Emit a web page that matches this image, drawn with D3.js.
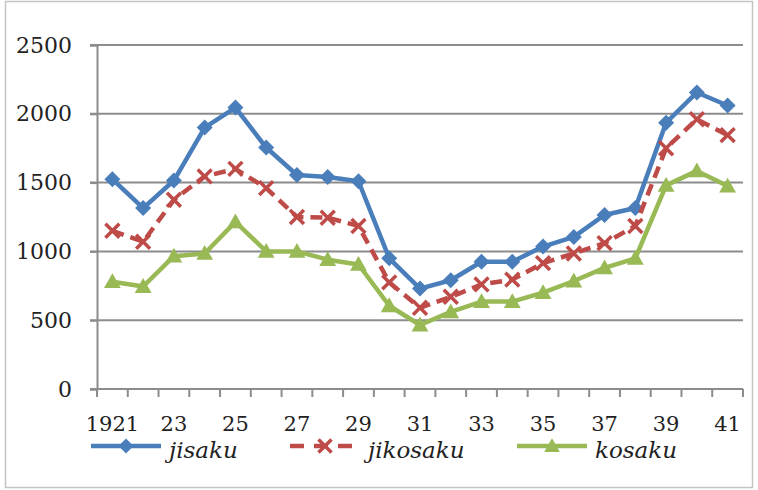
<!DOCTYPE html>
<html>
<head>
<meta charset="utf-8">
<script src="https://cdn.jsdelivr.net/npm/d3@7"></script>
<style>
  html, body { margin: 0; padding: 0; background: #fff; }
  svg { display: block; }
  text { font-family: "DejaVu Serif", "Liberation Serif", serif; fill: #222; }
</style>
</head>
<body>
<svg id="chart" width="758" height="490"></svg>
<script>
// Years on the category axis (1921-1941)
const years = [1921,1922,1923,1924,1925,1926,1927,1928,1929,1930,
               1931,1932,1933,1934,1935,1936,1937,1938,1939,1940,1941];
// Which years get a label, and the label text
const yearLabels = {1921:"1921",1923:"23",1925:"25",1927:"27",1929:"29",1931:"31",
                    1933:"33",1935:"35",1937:"37",1939:"39",1941:"41"};
const yTicks = [0, 500, 1000, 1500, 2000, 2500];

const jisaku   = [1525,1315,1515,1900,2045,1755,1555,1540,1510,950,
                  730,790,925,925,1035,1105,1265,1315,1935,2155,2060];
const jikosaku = [1150,1070,1375,1545,1600,1460,1250,1245,1185,775,
                  590,670,760,795,915,985,1060,1185,1750,1960,1845];
const kosaku   = [780,745,965,985,1215,1000,1000,940,905,605,
                  465,560,635,635,700,785,880,950,1480,1585,1475];

const series = [
  {name: "jisaku",   values: jisaku,   color: "#4A7EBB", dash: null,    marker: "diamond"},
  {name: "jikosaku", values: jikosaku, color: "#BE4B48", dash: "12,7",  marker: "cross"},
  {name: "kosaku",   values: kosaku,   color: "#98B954", dash: null,    marker: "triangle"}
];

const svg = d3.select("#chart");
const plotL = 97, plotR = 743, plotT = 45, plotB = 389;

// outer frame
svg.append("rect").attr("x", 5.5).attr("y", 1.5).attr("width", 747).attr("height", 486)
  .attr("fill", "none").attr("stroke", "#c4c4c4").attr("stroke-width", 1.5);

const x = d3.scaleBand().domain(years).range([plotL, plotR]).padding(0);
const y = d3.scaleLinear().domain([0, 2500]).range([plotB, plotT]);
const cx = d => x(d) + x.bandwidth() / 2;

// horizontal gridlines
svg.append("g").selectAll("line").data(yTicks.filter(t => t > 0)).join("line")
  .attr("x1", plotL - 7).attr("x2", plotR)
  .attr("y1", d => y(d)).attr("y2", d => y(d))
  .attr("stroke", "#8c8c8c").attr("stroke-width", 2);

// y axis
const yAxis = svg.append("g").attr("transform", `translate(${plotL},0)`)
  .call(d3.axisLeft(y).tickValues(yTicks).tickFormat(d3.format("d")).tickSize(7).tickPadding(18));
yAxis.select(".domain").attr("stroke", "#8c8c8c").attr("stroke-width", 2);
yAxis.selectAll(".tick line").attr("stroke", "#8c8c8c").attr("stroke-width", 2);
yAxis.selectAll(".tick text").attr("font-size", 22).attr("font-family", "DejaVu Serif").attr("fill", "#222");

// x axis: labels under every other category centre, tick marks at category edges
const xAxis = svg.append("g").attr("transform", `translate(0,${plotB})`)
  .call(d3.axisBottom(x).tickValues(years.filter(d => yearLabels[d]))
    .tickSize(0).tickPadding(27).tickFormat(d => yearLabels[d]));
xAxis.select(".domain").remove();
xAxis.selectAll(".tick text").attr("font-size", 21).attr("font-family", "DejaVu Serif").attr("fill", "#222");
svg.append("line").attr("x1", plotL - 7).attr("x2", plotR).attr("y1", plotB).attr("y2", plotB)
  .attr("stroke", "#8c8c8c").attr("stroke-width", 2);
const edges = years.map(d => x(d)).concat([x(years[years.length - 1]) + x.step()]);
svg.append("g").selectAll("line").data(edges).join("line")
  .attr("x1", d => d).attr("x2", d => d).attr("y1", plotB).attr("y2", plotB + 8)
  .attr("stroke", "#8c8c8c").attr("stroke-width", 2);

// marker shapes
function drawMarker(g, type, color, px, py, s) {
  const h = s / 2;
  if (type === "diamond") {
    g.append("path").attr("d", `M${px},${py - h}L${px + h},${py}L${px},${py + h}L${px - h},${py}Z`)
      .attr("fill", color);
  } else if (type === "triangle") {
    g.append("path").attr("d", `M${px},${py - h * 1.05}L${px + h * 1.05},${py + h * 0.8}L${px - h * 1.05},${py + h * 0.8}Z`)
      .attr("fill", color);
  } else {
    const c = s / 2.3;
    g.append("path").attr("d", `M${px - c},${py - c}L${px + c},${py + c}M${px - c},${py + c}L${px + c},${py - c}`)
      .attr("stroke", color).attr("stroke-width", 3.5).attr("fill", "none");
  }
}

const line = d3.line().x((d, i) => cx(years[i])).y(d => y(d));

series.forEach(s => {
  const g = svg.append("g");
  g.append("path").datum(s.values).attr("d", line)
    .attr("fill", "none").attr("stroke", s.color).attr("stroke-width", 4.5)
    .attr("stroke-linejoin", "round").attr("stroke-dasharray", s.dash);
  s.values.forEach((v, i) => drawMarker(g, s.marker, s.color, cx(years[i]), y(v), 16));
});

// legend
const legendX = [91, 290, 517];
const legY = 446;
series.forEach((s, i) => {
  const g = svg.append("g");
  const x0 = legendX[i];
  g.append("line").attr("x1", x0).attr("x2", x0 + 70).attr("y1", legY).attr("y2", legY)
    .attr("stroke", s.color).attr("stroke-width", 4.5).attr("stroke-dasharray", s.dash ? "14,10" : null);
  drawMarker(g, s.marker, s.color, x0 + 35, legY, 15);
  g.append("text").attr("x", x0 + 78).attr("y", 458)
    .attr("font-size", 23).attr("font-style", "italic").text(s.name);
});
</script>
</body>
</html>
